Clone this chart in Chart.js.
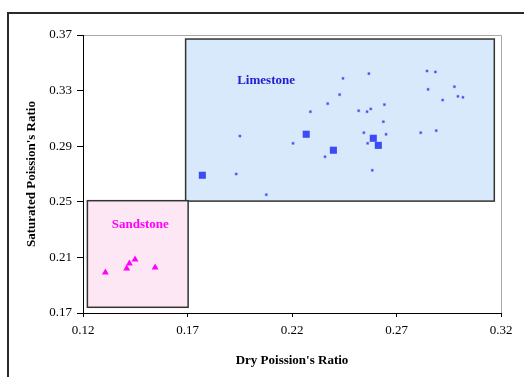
<!DOCTYPE html>
<html><head><meta charset="utf-8">
<script src="https://cdn.jsdelivr.net/npm/chart.js@4"></script>
<style>html,body{margin:0;padding:0;background:#fff}#wrap{position:relative;width:524px;height:377px}</style>
</head><body><div id="wrap"><canvas id="c" width="524" height="377"></canvas></div>
<script>
const xTicks = [0.12, 0.17, 0.22, 0.27, 0.32];
const yTicks = [0.17, 0.21, 0.25, 0.29, 0.33, 0.37];

const limeSmallX = [0.2444, 0.2428, 0.2371, 0.2288, 0.1951, 0.2205, 0.2358, 0.1933, 0.2077, 0.2568, 0.2846, 0.2886, 0.2851, 0.2977, 0.2994, 0.3018, 0.2921, 0.2642, 0.2519, 0.2559, 0.2577, 0.2637, 0.2544, 0.2650, 0.2816, 0.2890, 0.2562, 0.2584];
const limeSmallY = [0.3388, 0.3271, 0.3206, 0.3148, 0.2973, 0.2921, 0.2824, 0.2700, 0.2551, 0.3422, 0.3441, 0.3434, 0.3309, 0.3328, 0.3259, 0.3252, 0.3232, 0.3199, 0.3155, 0.3148, 0.3168, 0.3076, 0.2997, 0.2986, 0.2997, 0.3012, 0.2921, 0.2727];

const limeLargeX = [0.1771, 0.2268, 0.2398, 0.2589, 0.2613];
const limeLargeY = [0.2691, 0.2986, 0.2871, 0.2957, 0.2906];

const sandX = [0.1307, 0.1409, 0.1422, 0.1449, 0.1545];
const sandY = [0.1991, 0.2020, 0.2056, 0.2085, 0.2027];

const regionNames = ['Limestone', 'Sandstone'];
const regionX0 = [0.1691, 0.1221];
const regionX1 = [0.3168, 0.1703];
const regionY0 = [0.2505, 0.1741];
const regionY1 = [0.3671, 0.2508];
const labelX = [0.2076, 0.1474];
const labelY = [0.3369, 0.2338];
const regionFill = ['#d8e9fb', '#fde7f4'];
const labelColor = ['#2020d0', '#ff00ff'];

const zip = (xs, ys) => xs.map((x, i) => ({x: x, y: ys[i]}));

const regionPlugin = {
  id: 'regions',
  beforeDraw(chart) {
    const ctx = chart.ctx, a = chart.chartArea;
    ctx.save();
    // outer frame (top and left)
    ctx.strokeStyle = '#2a2a2a';
    ctx.lineWidth = 2;
    ctx.beginPath();
    ctx.moveTo(8, 377);
    ctx.lineTo(8, 13);
    ctx.lineTo(524, 13);
    ctx.stroke();
    // plot area border top / right
    ctx.strokeStyle = '#a8a8a8';
    ctx.lineWidth = 1;
    ctx.beginPath();
    ctx.moveTo(a.left, a.top + 0.5);
    ctx.lineTo(a.right + 0.5, a.top + 0.5);
    ctx.lineTo(a.right + 0.5, a.bottom);
    ctx.stroke();
    ctx.restore();
  },
  beforeDatasetsDraw(chart) {
    const ctx = chart.ctx, xs = chart.scales.x, ys = chart.scales.y;
    ctx.save();
    for (let i = 0; i < regionNames.length; i++) {
      const l = xs.getPixelForValue(regionX0[i]);
      const r = xs.getPixelForValue(regionX1[i]);
      const t = ys.getPixelForValue(regionY1[i]);
      const b = ys.getPixelForValue(regionY0[i]);
      ctx.fillStyle = regionFill[i];
      ctx.fillRect(l, t, r - l, b - t);
      ctx.strokeStyle = '#333';
      ctx.lineWidth = 1.5;
      ctx.strokeRect(l, t, r - l, b - t);
      ctx.fillStyle = labelColor[i];
      ctx.font = 'bold 13px "Liberation Serif", serif';
      ctx.textAlign = 'center';
      ctx.textBaseline = 'middle';
      ctx.fillText(regionNames[i], xs.getPixelForValue(labelX[i]), ys.getPixelForValue(labelY[i]));
    }
    ctx.restore();
  }
};

const tickFont = {family: '"Liberation Serif", serif', size: 13};
const titleFont = {family: '"Liberation Serif", serif', size: 13, weight: 'bold'};

new Chart(document.getElementById('c'), {
  type: 'scatter',
  data: {
    datasets: [
      {label: 'Limestone', data: zip(limeSmallX, limeSmallY), pointStyle: 'rect', pointRadius: 1.5, backgroundColor: '#3b4bf0', borderColor: '#6c78f0', borderWidth: 0.5},
      {label: 'Limestone avg', data: zip(limeLargeX, limeLargeY), pointStyle: 'rect', pointRadius: 5, backgroundColor: '#3b4bf5', borderColor: '#3b4bf5', borderWidth: 0},
      {label: 'Sandstone', data: zip(sandX, sandY), pointStyle: 'triangle', pointRadius: 4, backgroundColor: '#ff00ff', borderColor: '#ff00ff', borderWidth: 0}
    ]
  },
  options: {
    responsive: false,
    animation: false,
    devicePixelRatio: 1,
    layout: {padding: {left: 0, right: 23, top: 35, bottom: 0}},
    plugins: {legend: {display: false}, tooltip: {enabled: false}},
    scales: {
      x: {
        type: 'linear', min: 0.12, max: 0.32,
        afterBuildTicks: s => { s.ticks = xTicks.map(v => ({value: v})); },
        afterFit: s => { s.height = 64; },
        ticks: {callback: v => v.toFixed(2), font: tickFont, color: '#000', padding: 6, maxRotation: 0, autoSkip: false},
        grid: {display: true, drawOnChartArea: false, drawTicks: true, tickLength: 4, color: '#000'},
        border: {display: true, color: '#000', width: 1},
        title: {display: true, text: "Dry Poission's Ratio", font: titleFont, color: '#000', padding: {top: 0, bottom: 9}}
      },
      y: {
        type: 'linear', min: 0.17, max: 0.37,
        afterBuildTicks: s => { s.ticks = yTicks.map(v => ({value: v})); },
        afterFit: s => { s.width = 83; },
        ticks: {callback: v => v.toFixed(2), font: tickFont, color: '#000', padding: 5, autoSkip: false},
        grid: {display: true, drawOnChartArea: false, drawTicks: true, tickLength: 6, color: '#000'},
        border: {display: true, color: '#000', width: 1},
        title: {display: true, text: "Saturated Poission's Ratio", font: titleFont, color: '#000', padding: {top: 24, bottom: 0}}
      }
    }
  },
  plugins: [regionPlugin]
});
</script>
</body></html>
